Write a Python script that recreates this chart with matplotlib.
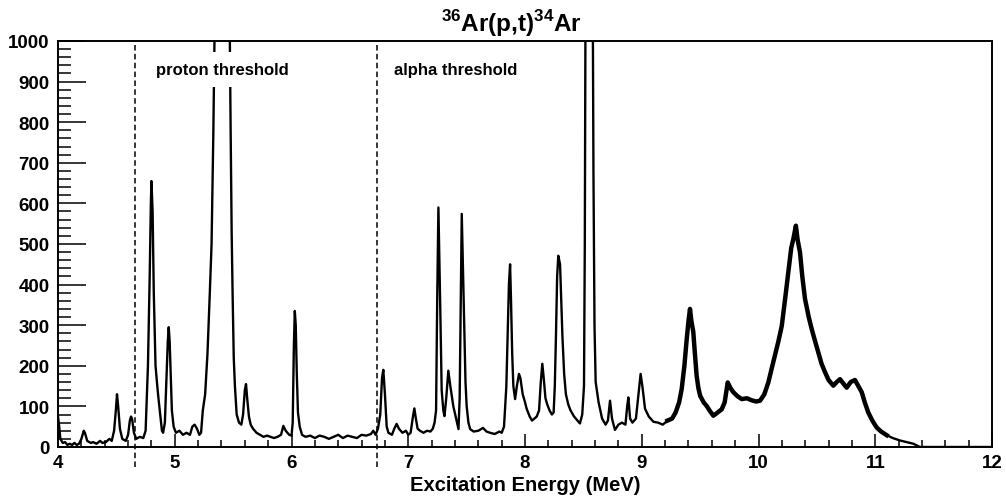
import matplotlib
matplotlib.use('Agg')
import matplotlib.pyplot as plt
from matplotlib.ticker import MultipleLocator

plt.rcParams['font.family'] = ['Liberation Sans', 'DejaVu Sans']
plt.rcParams['font.weight'] = 'bold'
plt.rcParams['mathtext.fontset'] = 'custom'
plt.rcParams['mathtext.rm'] = 'Liberation Sans:bold'
plt.rcParams['mathtext.bf'] = 'Liberation Sans:bold'

# spectrum (MeV, counts); values above 1000 are off scale
energy = [
    4.00, 4.01, 4.02, 4.04, 4.06, 4.08, 4.10, 4.12, 4.14, 4.16, 4.18, 4.20, 4.22, 4.23, 4.25,
    4.28, 4.30, 4.33, 4.36, 4.38, 4.41, 4.44, 4.46, 4.48, 4.495, 4.505, 4.515, 4.53, 4.55, 4.58,
    4.60, 4.615, 4.625, 4.635, 4.65, 4.67, 4.70, 4.73, 4.75, 4.77, 4.785, 4.795, 4.80, 4.81, 4.82,
    4.835, 4.85, 4.86, 4.875, 4.89, 4.90, 4.915, 4.93, 4.94, 4.948, 4.956, 4.965, 4.975, 4.99, 5.01,
    5.04, 5.07, 5.10, 5.13, 5.15, 5.17, 5.19, 5.21, 5.225, 5.24, 5.26, 5.28, 5.30, 5.315, 5.33,
    5.342, 5.36, 5.40, 5.44, 5.47, 5.478, 5.487, 5.495, 5.505, 5.515, 5.53, 5.55, 5.57, 5.585, 5.60,
    5.61, 5.62, 5.635, 5.65, 5.67, 5.70, 5.73, 5.76, 5.79, 5.82, 5.85, 5.88, 5.91, 5.93, 5.95,
    5.98, 6.00, 6.01, 6.02, 6.028, 6.036, 6.045, 6.055, 6.07, 6.09, 6.12, 6.16, 6.20, 6.24, 6.28,
    6.32, 6.36, 6.40, 6.44, 6.48, 6.52, 6.56, 6.60, 6.64, 6.68, 6.70, 6.72, 6.74, 6.76, 6.775,
    6.786, 6.80, 6.815, 6.83, 6.86, 6.88, 6.90, 6.92, 6.95, 6.98, 7.00, 7.02, 7.04, 7.052, 7.065,
    7.08, 7.10, 7.13, 7.16, 7.19, 7.21, 7.225, 7.238, 7.248, 7.258, 7.266, 7.274, 7.286, 7.30, 7.31,
    7.325, 7.343, 7.36, 7.386, 7.41, 7.43, 7.44, 7.448, 7.458, 7.467, 7.478, 7.49, 7.50, 7.515, 7.53,
    7.56, 7.60, 7.64, 7.67, 7.70, 7.74, 7.78, 7.80, 7.82, 7.84, 7.851, 7.862, 7.872, 7.88, 7.89,
    7.90, 7.915, 7.93, 7.948, 7.96, 7.98, 8.00, 8.014, 8.04, 8.06, 8.08, 8.10, 8.12, 8.135, 8.148,
    8.16, 8.175, 8.19, 8.21, 8.23, 8.245, 8.255, 8.265, 8.275, 8.285, 8.30, 8.31, 8.32, 8.335, 8.35,
    8.37, 8.39, 8.42, 8.45, 8.47, 8.49, 8.505, 8.512, 8.518, 8.54, 8.56, 8.58, 8.586, 8.595, 8.605,
    8.63, 8.66, 8.69, 8.71, 8.728, 8.745, 8.77, 8.80, 8.83, 8.86, 8.875, 8.885, 8.90, 8.92, 8.95,
    8.975, 8.99, 9.005, 9.028, 9.06, 9.10, 9.14, 9.18, 9.22, 9.26, 9.29, 9.32, 9.342, 9.365, 9.385,
    9.40, 9.413, 9.425, 9.441, 9.455, 9.47, 9.485, 9.50, 9.53, 9.556, 9.585, 9.613, 9.65, 9.685, 9.71,
    9.736, 9.76, 9.784, 9.82, 9.856, 9.90, 9.942, 9.98, 10.013, 10.05, 10.084, 10.11, 10.14, 10.17, 10.199,
    10.23, 10.255, 10.28, 10.298, 10.31, 10.32, 10.335, 10.355, 10.375, 10.398, 10.43, 10.455, 10.485, 10.512, 10.54,
    10.57, 10.60, 10.641, 10.67, 10.698, 10.73, 10.755, 10.79, 10.826, 10.855, 10.884, 10.91, 10.94, 10.975, 11.012,
    11.05, 11.098, 11.15, 11.212, 11.27, 11.326, 11.383, 12.0,
]
counts = [
    75, 50, 20, 10, 12, 5, 8, 5, 10, 5, 8, 20, 40, 35, 15,
    10, 12, 8, 15, 10, 12, 20, 15, 40, 90, 130, 100, 45, 20, 15,
    30, 65, 75, 68, 35, 20, 25, 22, 40, 200, 420, 600, 655, 580, 380,
    200, 150, 120, 80, 40, 35, 60, 180, 260, 295, 260, 180, 90, 50, 35,
    40, 30, 35, 30, 50, 55, 45, 30, 35, 90, 130, 230, 380, 500, 770,
    1050, 1200, 1300, 1200, 1050, 790, 530, 380, 220, 150, 80, 60, 55, 80, 140,
    155, 120, 75, 55, 45, 35, 30, 25, 28, 25, 22, 25, 30, 52, 40,
    30, 28, 60, 250, 335, 300, 180, 85, 50, 30, 25, 28, 22, 28, 25,
    20, 25, 30, 22, 28, 25, 22, 30, 28, 32, 40, 30, 45, 80, 170,
    190, 130, 50, 35, 30, 45, 57, 45, 35, 40, 30, 35, 75, 95, 70,
    45, 40, 35, 40, 38, 45, 60, 90, 370, 590, 470, 340, 140, 90, 76,
    120, 188, 150, 100, 70, 44, 120, 320, 574, 460, 316, 160, 101, 60, 44,
    38, 40, 47, 38, 35, 32, 38, 35, 50, 150, 275, 400, 450, 360, 230,
    150, 118, 150, 180, 170, 130, 110, 94, 75, 65, 70, 75, 90, 160, 205,
    170, 120, 105, 90, 80, 85, 150, 275, 420, 471, 450, 360, 275, 180, 130,
    105, 90, 75, 65, 58, 80, 150, 500, 1100, 1500, 1500, 1100, 680, 300, 160,
    110, 70, 55, 65, 114, 70, 42, 55, 60, 55, 100, 122, 70, 60, 70,
    140, 180, 150, 94, 75, 62, 60, 55, 65, 70, 85, 110, 143, 200, 266,
    310, 340, 310, 284, 230, 175, 145, 126, 110, 101, 88, 77, 85, 93, 110,
    159, 145, 135, 125, 118, 120, 115, 112, 114, 130, 159, 190, 225, 260, 298,
    370, 430, 490, 512, 530, 545, 510, 480, 420, 365, 320, 291, 260, 233, 205,
    184, 165, 151, 160, 167, 155, 146, 160, 165, 150, 135, 110, 85, 65, 48,
    38, 29, 22, 16, 12, 8, 0, 0,
]

thresholds = [4.66, 6.73]
threshold_labels = ['proton threshold', 'alpha threshold']
label_pos = [(4.84, 919), (6.88, 919)]

fig = plt.figure(figsize=(10.06, 5.02), dpi=100)
ax = fig.add_axes([0.0577, 0.1076, 0.9284, 0.8088])

ax.plot(energy, counts, color='black', lw=1.7, zorder=2)
# the broad, noisy part of the spectrum looks like a thick band
broad = [i for i, e in enumerate(energy) if 9.2 <= e <= 11.1]
ax.plot([energy[i] for i in broad], [counts[i] for i in broad], color='black', lw=3.2,
        solid_joinstyle='round', zorder=2)

for e in thresholds:
    ax.plot([e, e], [-49, 1000], color='black', lw=1.1, dashes=(3.6, 2.2),
            clip_on=False, zorder=3)

for txt, (tx, ty) in zip(threshold_labels, label_pos):
    ax.text(tx, ty, txt, fontsize=12, fontweight='bold', va='baseline', ha='left',
            zorder=4, bbox=dict(boxstyle='square,pad=0.6', fc='white', ec='none'))

ax.set_xlim(4, 12)
ax.set_ylim(0, 1000)
ax.xaxis.set_major_locator(MultipleLocator(1))
ax.xaxis.set_minor_locator(MultipleLocator(0.2))
ax.yaxis.set_major_locator(MultipleLocator(100))
ax.yaxis.set_minor_locator(MultipleLocator(20))
ax.tick_params(axis='x', which='major', direction='in', length=9.5, width=1.1,
               labelsize=13.5, pad=5, top=False)
ax.tick_params(axis='x', which='minor', direction='in', length=5, width=1.1, top=False)
ax.tick_params(axis='y', which='major', direction='in', length=20, width=1.1,
               labelsize=13.5, pad=6, right=False)
ax.tick_params(axis='y', which='minor', direction='in', length=9.6, width=1.1, right=False)
for lab in ax.get_xticklabels() + ax.get_yticklabels():
    lab.set_fontweight('bold')
for s in ax.spines.values():
    s.set_linewidth(1.4)

ax.set_xlabel('Excitation Energy (MeV)', fontsize=14.5, fontweight='bold', labelpad=3)
fig.text(0.508, 0.936, r'${}^{36}\mathbf{Ar(p{,}t)}{}^{34}\mathbf{Ar}$', fontsize=17.5,
         ha='center', va='baseline')

fig.savefig('out.png', dpi=100, facecolor='white')
